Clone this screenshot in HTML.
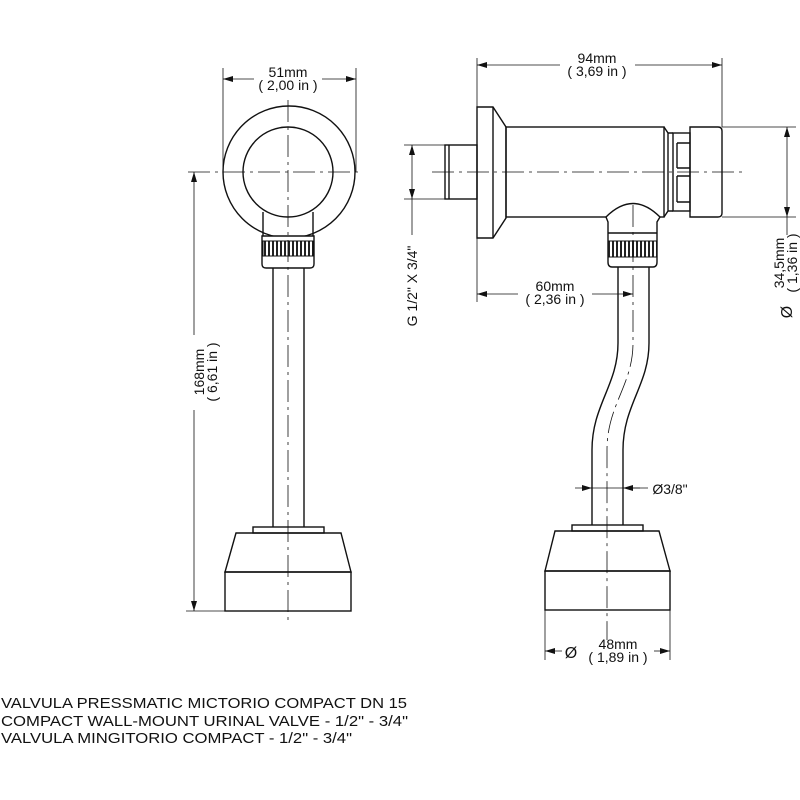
<!DOCTYPE html>
<html><head><meta charset="utf-8"><style>
html,body{margin:0;padding:0;background:#fff;}
svg{display:block;}
text{font-family:"Liberation Sans",sans-serif;fill:#111;}
</style></head><body>
<svg width="800" height="800" viewBox="0 0 800 800" xmlns="http://www.w3.org/2000/svg">
<defs>
<marker id="a" viewBox="0 0 10 6" refX="10" refY="3" markerWidth="10" markerHeight="6" orient="auto-start-reverse" markerUnits="userSpaceOnUse"><path d="M0,0 L10,3 L0,6 z" fill="#111"/></marker>
<pattern id="kn" width="4" height="10" patternUnits="userSpaceOnUse"><rect width="4" height="10" fill="#fff"/><rect width="2" height="10" fill="#222"/></pattern>
</defs>
<g fill="none" stroke="#111" stroke-width="1.4">
<circle cx="289" cy="172" r="66" fill="#fff"/>
<circle cx="288" cy="172" r="45"/>
<path d="M263,212 L263,236 M313,212 L313,236"/>
<path d="M262,236 H314 V264 Q314,268 310,268 H266 Q262,268 262,264 Z" fill="#fff"/>
<rect x="263" y="241" width="50" height="15" fill="url(#kn)" stroke="#111" stroke-width="1"/>
<path d="M273,268 V527 M304,268 V527"/>
<rect x="253" y="527" width="71" height="6"/>
<path d="M236,533 H341 L351,572 H225 Z"/>
<rect x="225" y="572" width="126" height="39"/>
<rect x="445" y="145" width="32" height="54"/>
<path d="M449,145 V199"/>
<path d="M477,107 H493 L506,127 V218 L493,238 H477 Z"/>
<path d="M493,107 V238"/>
<rect x="506" y="127" width="158" height="90"/>
<path d="M664,127 L668,133 V211 L664,217 M668,133 H673 M668,211 H673"/>
<rect x="673" y="133" width="17" height="78"/>
<path d="M677,143 H690 M677,168 H690 M677,176 H690 M677,202 H690 M677,143 V168 M677,176 V202"/>
<path d="M690,127 H718 Q722,127 722,131 V213 Q722,217 718,217 H690 Z"/>
<path d="M606,217 Q633,190 660,217 L657,222 V262 Q657,267 653,267 H612 Q608,267 608,262 V222 Z" fill="#fff"/>
<path d="M608,233 H657"/>
<rect x="608" y="241" width="49" height="16" fill="url(#kn)" stroke="#111" stroke-width="1"/>
<path d="M618,267 V343 C618,385 592,405 592,450 V525"/>
<path d="M649,267 V343 C649,385 623,405 623,450 V525"/>
<rect x="572" y="525" width="71" height="6"/>
<path d="M555,531 H659 L670,571 H545 Z"/>
<rect x="545" y="571" width="125" height="39"/>
</g>
<g fill="none" stroke="#111" stroke-width="0.8" stroke-dasharray="22,5,3,5">
<path d="M288,100 V625"/>
<path d="M188,172 H358"/>
<path d="M432,172 H745"/>
<path d="M633,205 V343 C633,385 607,405 607,450 V640"/>
</g>
<g fill="none" stroke="#111" stroke-width="0.8">
<path d="M223,68 V172 M356,68 V172"/>
<path d="M254,79 H223" marker-end="url(#a)"/><path d="M322,79 H356" marker-end="url(#a)"/>
<path d="M186,611 H225"/>
<path d="M194,335 V172" marker-end="url(#a)"/><path d="M194,410 V611" marker-end="url(#a)"/>
<path d="M477,58 V107 M722,58 V127"/>
<path d="M560,65 H477" marker-end="url(#a)"/><path d="M635,65 H722" marker-end="url(#a)"/>
<path d="M404,145 H445 M404,199 H445"/>
<path d="M412,172 V145" marker-end="url(#a)"/><path d="M412,172 V199" marker-end="url(#a)"/>
<path d="M412,199 V235"/>
<path d="M722,127 H796 M722,217 H796"/>
<path d="M787,172 V127" marker-end="url(#a)"/><path d="M787,172 V217" marker-end="url(#a)"/>
<path d="M787,217 V235"/>
<path d="M477,238 V302"/>
<path d="M518,294 H477" marker-end="url(#a)"/><path d="M592,294 H633" marker-end="url(#a)"/>
<path d="M575,488 H592" marker-end="url(#a)"/><path d="M640,488 H623" marker-end="url(#a)"/><path d="M592,488 H648"/>
<path d="M545,610 V660 M670,610 V660"/>
<path d="M562,651 H545" marker-end="url(#a)"/><path d="M654,651 H670" marker-end="url(#a)"/>
</g>
<g font-size="14" text-anchor="middle">
<text x="288" y="77">51mm</text><text x="288" y="90">( 2,00 in )</text>
<text x="597" y="63">94mm</text><text x="597" y="76">( 3,69 in )</text>
<text x="555" y="291">60mm</text><text x="555" y="304">( 2,36 in )</text>
<text x="618" y="649">48mm</text><text x="618" y="662">( 1,89 in )</text>
<text x="571" y="658" font-size="16">Ø</text>
<text x="670" y="494">Ø3/8"</text>
<text transform="translate(204,372) rotate(-90)">168mm</text>
<text transform="translate(217,372) rotate(-90)">( 6,61 in )</text>
<text transform="translate(417,286) rotate(-90)">G 1/2" X 3/4"</text>
<text transform="translate(784,263) rotate(-90)">34,5mm</text>
<text transform="translate(797,263) rotate(-90)">( 1,36 in )</text>
<text transform="translate(792,312) rotate(-90)" font-size="16">Ø</text>
</g>
<g font-size="15">
<text x="1" y="708" textLength="406" lengthAdjust="spacingAndGlyphs">VALVULA PRESSMATIC MICTORIO COMPACT DN 15</text>
<text x="1" y="726" textLength="407" lengthAdjust="spacingAndGlyphs">COMPACT WALL-MOUNT URINAL VALVE - 1/2" - 3/4"</text>
<text x="1" y="743" textLength="351" lengthAdjust="spacingAndGlyphs">VALVULA MINGITORIO COMPACT - 1/2" - 3/4"</text>
</g>
</svg>
</body></html>
